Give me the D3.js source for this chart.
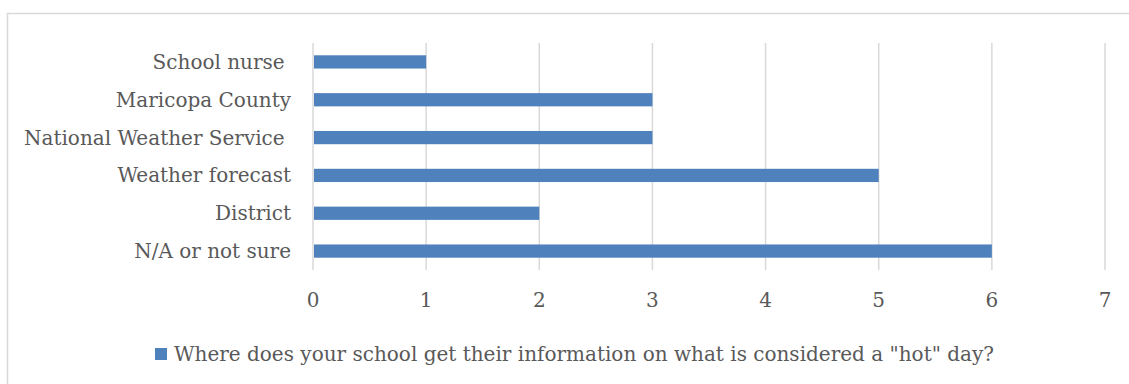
<!DOCTYPE html>
<html>
<head>
<meta charset="utf-8">
<script src="https://cdn.jsdelivr.net/npm/d3@7"></script>
<style>
  body { margin: 0; background: #fff; }
  text { font-family: "DejaVu Serif", serif; fill: #595959; white-space: pre; }
</style>
</head>
<body>
<div id="chart"></div>
<script>
// Categories, top to bottom as they appear
const categories = ['School nurse ', 'Maricopa County', 'National Weather Service ', 'Weather forecast', 'District', 'N/A or not sure'];
const counts = [1, 3, 3, 5, 2, 6];
const xTicks = [0, 1, 2, 3, 4, 5, 6, 7];
const seriesName = 'Where does your school get their information on what is considered a "hot" day?';

const W = 1129, H = 384;
const plot = { left: 313, right: 1105, top: 43, bottom: 270 };

const svg = d3.select('#chart').append('svg')
  .attr('width', W)
  .attr('height', H);

// chart border (runs off the right/bottom edge in the original)
svg.append('rect')
  .attr('x', 7.5).attr('y', 13.5)
  .attr('width', W + 10).attr('height', H + 10)
  .attr('fill', 'none')
  .attr('stroke', '#d9d9d9')
  .attr('stroke-width', 1.5);

const x = d3.scaleLinear().domain([0, 7]).range([plot.left, plot.right]);
const y = d3.scaleBand().domain(categories).range([plot.top, plot.bottom]).paddingInner(0.65).paddingOuter(0.325);

// vertical gridlines
svg.append('g')
  .selectAll('line')
  .data(xTicks)
  .join('line')
  .attr('x1', d => x(d)).attr('x2', d => x(d))
  .attr('y1', plot.top).attr('y2', plot.bottom)
  .attr('stroke', '#d9d9d9')
  .attr('stroke-width', 1.5);

// bars
svg.append('g')
  .selectAll('rect')
  .data(categories)
  .join('rect')
  .attr('x', x(0) + 1)
  .attr('y', d => y(d))
  .attr('width', (d, i) => x(counts[i]) - x(0) - 1)
  .attr('height', y.bandwidth())
  .attr('fill', '#4f81bd');

// category labels
svg.append('g')
  .selectAll('text')
  .data(categories)
  .join('text')
  .attr('x', 291)
  .attr('y', d => y(d) + y.bandwidth() / 2)
  .attr('dy', '0.35em')
  .attr('text-anchor', 'end')
  .style('font-size', '20px')
  .text(d => d);

// x tick labels
svg.append('g')
  .selectAll('text')
  .data(xTicks)
  .join('text')
  .attr('x', d => x(d))
  .attr('y', 307)
  .attr('text-anchor', 'middle')
  .style('font-size', '20px')
  .text(d => d);

// legend
svg.append('rect')
  .attr('x', 155).attr('y', 348)
  .attr('width', 12).attr('height', 12)
  .attr('fill', '#4f81bd');

svg.append('text')
  .attr('x', 174)
  .attr('y', 361)
  .style('font-size', '20px')
  .text(seriesName);
</script>
</body>
</html>
